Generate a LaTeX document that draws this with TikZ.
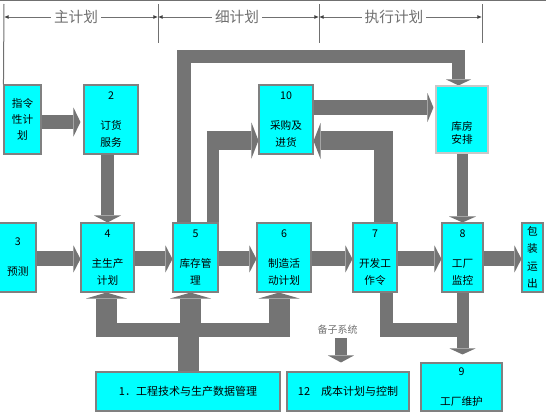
\documentclass[tikz,border=0pt]{standalone}
\usepackage{fontspec}
\setmainfont{Liberation Serif}
\newfontfamily\cjk{Noto Sans CJK SC}
\usetikzlibrary{arrows.meta,calc}
\pgfdeclarelayer{background}
\pgfsetlayers{background,main}
\definecolor{cy}{HTML}{00FFFF}
\definecolor{ag}{HTML}{747474}
\definecolor{bd}{HTML}{808080}
\definecolor{hg}{HTML}{707070}
\definecolor{lbd}{HTML}{C8C8C8}
\tikzset{
  box/.style={draw=bd, fill=cy, line width=0.8pt, inner sep=0pt, align=center,
     font=\cjk\fontsize{8pt}{12.75pt}\selectfont},
  sz/.style 2 args={minimum width=#1*0.75pt, minimum height=#2*0.75pt},
  fat/.style={draw=ag, line cap=butt, line join=miter},
  tip/.style 2 args={-{Triangle[width=#1,length=#2,line width=0pt]}},
  hdr/.style={fill=white, text=hg, inner sep=2pt, font=\cjk\fontsize{11pt}{13pt}\selectfont},
  dimline/.style={draw=hg, line width=0.75pt},
  dimarr/.style={{Latex[length=3.5pt,width=3pt,color=black!75]}-{Latex[length=3.5pt,width=3pt,color=black!75]}},
}
\begin{document}
\begin{tikzpicture}[x=0.75pt,y=-0.75pt]
\useasboundingbox (0,0) rectangle (546,414);

% boxes
\node[box,sz={37}{69},font=\cjk\fontsize{8pt}{12pt}\selectfont] (zl) at (22.5,119.5) {指令\\性计\\划};
\node[box,sz={54}{69}] (n2) at (111,119.5) {2\\[9.75pt]订货\\服务};
\node[box,sz={54}{69}] (n10) at (286,119.5) {10\\[9.75pt]采购及\\进货};
\node[box,draw=lbd,sz={52}{67},label={[font=\cjk\fontsize{8pt}{9.5pt}\selectfont,align=center,yshift=-10pt]center:库房\\安排}] (kf) at (462,119.5) {};

\node[box,sz={36.5}{69}] (n3) at (17.75,257.5) {3\\[9.75pt]预测};
\node[box,sz={53}{69}] (n4) at (107.5,257.5) {4\\[9.75pt]主生产\\计划};
\node[box,sz={45}{69}] (n5) at (195.5,257.5) {5\\[9.75pt]库存管\\理};
\node[box,sz={54}{69}] (n6) at (284,257.5) {6\\[9.75pt]制造活\\动计划};
\node[box,sz={44}{69}] (n7) at (375,257.5) {7\\[9.75pt]开发工\\作令};
\node[box,sz={41}{69}] (n8) at (462.5,257.5) {8\\[9.75pt]工厂\\监控};
\node[box,sz={21}{69},font=\cjk\fontsize{8pt}{13pt}\selectfont] (bz) at (532.5,257.5) {包\\装\\运\\出};

\node[box,sz={184}{39},font=\cjk\fontsize{8.25pt}{10pt}\selectfont] (n1) at (188,391.5) {1．工程技术与生产数据管理};
\node[box,sz={122}{39},font=\cjk\fontsize{8.25pt}{10pt}\selectfont] (n12) at (348,391.5) {12\quad 成本计划与控制};
\node[box,sz={81}{48}] (n9) at (461.5,387) {9\\[9.75pt]工厂维护};

\node[font=\cjk\fontsize{7.5pt}{9pt}\selectfont, text=hg, inner sep=2.25pt] (bzx) at (337.5,330) {备子系统};

% header
\draw[dimline] (0,0.5) -- (546,0.5);
\coordinate (t0) at (4,4);
\coordinate (t1) at (158,4);
\coordinate (t2) at (319,4);
\coordinate (t3) at (482,4);
\draw[dimline] (t0) -- (zl.north west);
\foreach \t in {t1,t2,t3} \draw[dimline] (\t) -- ++(0,39);
\draw[dimline,dimarr] ($(t0)+(0,13)$) -- ($(t1)+(0,13)$);
\draw[dimline,dimarr] ($(t1)+(0,13)$) -- ($(t2)+(0,13)$);
\draw[dimline,dimarr] ($(t2)+(0,13)$) -- ($(t3)+(0,13)$);
\node[hdr] (h1) at (76,17) {主计划};
\node[hdr] (h2) at (237,17) {细计划};
\node[hdr] (h3) at (394,17) {执行计划};

\begin{pgfonlayer}{background}
% top row
\draw[fat,line width=10.5pt,tip={21.75pt}{5.25pt},shorten >=2.25pt] ([yshift=-1.9pt]zl.east) -- ([yshift=-1.9pt]n2.west);
\draw[fat,line width=9.75pt,tip={20.25pt}{5.25pt}] (n4.north |- n2.south) -- (n4.north);
\draw[fat,line width=11.25pt,tip={21.75pt}{4.5pt},shorten >=1.5pt] ([yshift=9pt]n10.east) -- ([yshift=9pt]kf.west);
% main row
\foreach \a/\b in {n3/n4,n4/n5,n5/n6,n6/n7,n7/n8,n8/bz}
  \draw[fat,line width=11.25pt,tip={20.25pt}{5.25pt}] ([yshift=-1.1pt]\a.east) -- ([yshift=-1.1pt]\b.west);
% 7 -> 10
\draw[fat,line width=14.25pt,tip={27pt}{5.25pt}] ([xshift=6pt]n7.north) |- ([yshift=-16.1pt]n10.east);
% 5 -> 10
\coordinate (c5) at ([xshift=13.1pt]n5.north);
\coordinate (h5) at ([yshift=-15.75pt]n10.west);
\draw[fat,line width=9pt] (c5) -- ($(c5 |- h5)+(0,-9.5)$);
\draw[fat,line width=14.25pt,tip={27pt}{5.25pt}] ($(c5 |- h5)+(-6,0)$) -- (h5);
% top loop 5 -> kf
\coordinate (c5t) at ([xshift=-8.6pt]n5.north);
\coordinate (kt) at ([xshift=-2.6pt]kf.north);
\coordinate (topy) at (0,56.5);
\draw[fat,line width=10.1pt,tip={18.75pt}{4.5pt}] (c5t) -- (c5t |- topy) -- (kt |- topy) -- (kt);
% kf -> 8
\draw[fat,line width=8.25pt,tip={20.25pt}{4.5pt}] (n8.north |- kf.south) -- (n8.north);
% bottom distribution from 1
\coordinate (bary) at (0,330);
\coordinate (barb) at (0,337);
\coordinate (a4) at ([xshift=-0.75pt]n4.south);
\coordinate (a5) at ([xshift=-3.75pt]n5.south);
\coordinate (a6) at ([xshift=-3.75pt]n6.south);
\draw[fat,line width=10.5pt] (a4 |- bary) -- (a6 |- bary);
\draw[fat,line width=15.75pt] (n1.north |- bary) -- (n1.north);
\foreach \c/\n in {a4/n4,a5/n5,a6/n6}
  \draw[fat,line width=15.75pt,tip={30.75pt}{4.5pt}] (\c |- barb) -- (\c);
% 7, 8 -> 9
\coordinate (c7) at ([xshift=8.6pt]n7.south);
\draw[fat,line width=10.1pt] (c7) -- (c7 |- bary) -- (n8.south |- bary);
\draw[fat,line width=9pt,tip={19.5pt}{4.5pt},shorten >=6pt] (n8.south) -- (n8.south |- n9.north);
% subsystem -> 12
\coordinate (bs) at ([xshift=2.6pt]bzx.south);
\draw[fat,line width=9pt,tip={19.5pt}{5.25pt},shorten >=6.75pt] (bs) -- (bs |- n12.north);
\end{pgfonlayer}
\end{tikzpicture}
\end{document}
